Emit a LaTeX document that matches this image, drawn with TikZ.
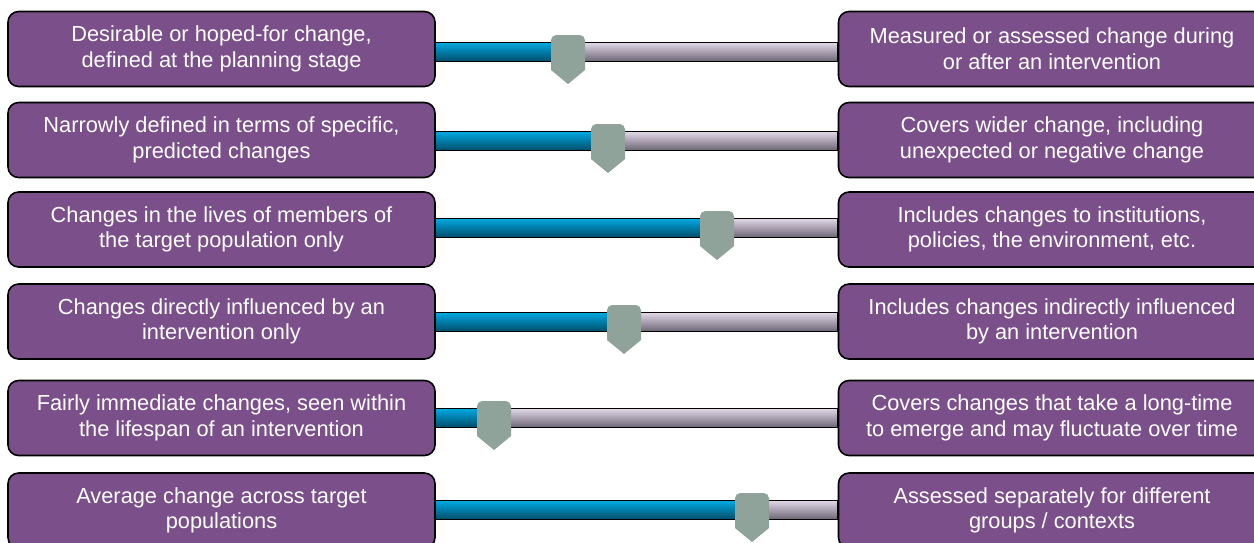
\documentclass[tikz,border=0pt]{standalone}
\usepackage{fontspec}
\setmainfont{Liberation Sans}
\usepackage{xcolor}
\usetikzlibrary{calc}
\definecolor{Plum}{HTML}{7A4F8A}
\definecolor{BarBlue}{HTML}{00A9E2}
\definecolor{BarBlueD}{HTML}{004C68}
\definecolor{BarLil}{HTML}{E2D8E8}
\definecolor{BarLilD}{HTML}{6B6472}
\definecolor{KnobG}{HTML}{8FA39A}

\begin{document}
\begin{tikzpicture}[font=\fontsize{12.4}{14.6}\selectfont,
    blk/.style={draw=black,fill=Plum,rounded corners=6pt,minimum height=1.5cm,
      minimum width=8.54cm,align=center,text=white,line width=0.9pt},
    lo/.style={draw=black,line width=0.8pt,top color=BarBlue,bottom color=BarBlueD},
    hi/.style={draw=black,line width=0.8pt,top color=BarLil,bottom color=BarLilD},
    knob/.pic={\fill[KnobG] (-0.34,-0.36) [rounded corners=3pt] -- (-0.34,0.34)
      -- (0.34,0.34) [sharp corners] -- (0.34,-0.36) -- (0,-0.64) -- cycle;}]
  \useasboundingbox (0,0) rectangle (25.08,-10.84);
  \clip (0,0) rectangle (25.08,-10.84);

  % left / right ends of each scale
  \node[blk] (L1) at (4.43,-0.98) {Desirable or hoped-for change,\\defined at the planning stage};
  \node[blk] (R1) at (21.04,-0.98) {Measured or assessed change during\\or after an intervention};
  \node[blk] (L2) at (4.43,-2.80) {Narrowly defined in terms of specific,\\predicted changes};
  \node[blk] (R2) at (21.04,-2.80) {Covers wider change, including\\unexpected or negative change};
  \node[blk] (L3) at (4.43,-4.59) {Changes in the lives of members of\\the target population only};
  \node[blk] (R3) at (21.04,-4.59) {Includes changes to institutions,\\policies, the environment, etc.};
  \node[blk] (L4) at (4.43,-6.43) {Changes directly influenced by an\\intervention only};
  \node[blk] (R4) at (21.04,-6.43) {Includes changes indirectly influenced\\by an intervention};
  \node[blk] (L5) at (4.43,-8.36) {Fairly immediate changes, seen within\\the lifespan of an intervention};
  \node[blk] (R5) at (21.04,-8.36) {Covers changes that take a long-time\\to emerge and may fluctuate over time};
  \node[blk] (L6) at (4.43,-10.21) {Average change across target\\populations};
  \node[blk] (R6) at (21.04,-10.21) {Assessed separately for different\\groups / contexts};

  % slider positions
  \coordinate (p1) at (11.36,-1.04);
  \coordinate (p2) at (12.16,-2.82);
  \coordinate (p3) at (14.34,-4.56);
  \coordinate (p4) at (12.48,-6.44);
  \coordinate (p5) at (9.88,-8.36);
  \coordinate (p6) at (15.04,-10.20);

  \foreach \i in {1,...,6}{
    \shade[hi] ($(p\i)+(0,0.19)$) rectangle ($(R\i.west |- p\i)+(0,-0.19)$);
    \shade[lo] ($(L\i.east |- p\i)+(0,0.19)$) rectangle ($(p\i)+(0,-0.19)$);
    \pic at (p\i) {knob};
  }
\end{tikzpicture}
\end{document}
